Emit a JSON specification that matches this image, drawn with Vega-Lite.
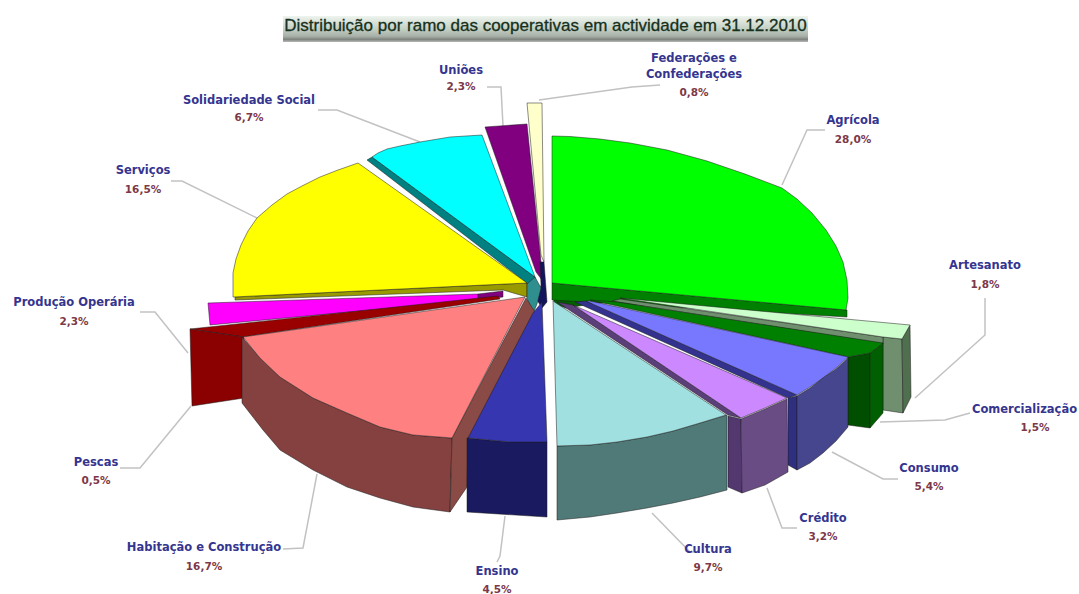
{
  "$schema": "https://vega.github.io/schema/vega-lite/v6.json",
  "width": 1079,
  "height": 594,
  "padding": 0,
  "autosize": "none",
  "background": "#ffffff",
  "view": {"stroke": null},
  "layer": [
    {
      "data": {"values": [{"x": 283, "x2": 808, "y": 16, "y2": 42}]},
      "mark": {"type": "rect", "fill": {"gradient": "linear", "x1": 0, "y1": 0, "x2": 0, "y2": 1, "stops": [{"offset": 0, "color": "#eef4ee"}, {"offset": 0.5, "color": "#c4d0c4"}, {"offset": 0.78, "color": "#a8b0a8"}, {"offset": 0.9, "color": "#7f847f"}, {"offset": 1, "color": "#b8bab8"}]}},
      "encoding": {
        "x": {"field": "x", "type": "quantitative", "scale": {"domain": [0, 1079]}, "axis": null},
        "x2": {"field": "x2"},
        "y": {"field": "y", "type": "quantitative", "scale": {"domain": [594, 0]}, "axis": null},
        "y2": {"field": "y2"}
      }
    },
    {
      "data": {"values": {"type": "FeatureCollection", "features": [
        {"type": "Feature", "properties": {"ramo": "Agrícola"}, "geometry": {"type": "LineString", "coordinates": [[782,185],[807,130],[825,130]]}},
        {"type": "Feature", "properties": {"ramo": "Artesanato"}, "geometry": {"type": "LineString", "coordinates": [[915,398],[985,335],[985,298]]}},
        {"type": "Feature", "properties": {"ramo": "Comercialização"}, "geometry": {"type": "LineString", "coordinates": [[880,422],[945,420],[970,413]]}},
        {"type": "Feature", "properties": {"ramo": "Consumo"}, "geometry": {"type": "LineString", "coordinates": [[832,452],[883,479],[898,479]]}},
        {"type": "Feature", "properties": {"ramo": "Crédito"}, "geometry": {"type": "LineString", "coordinates": [[767,488],[782,528],[797,528]]}},
        {"type": "Feature", "properties": {"ramo": "Cultura"}, "geometry": {"type": "LineString", "coordinates": [[652,513],[690,552],[700,552]]}},
        {"type": "Feature", "properties": {"ramo": "Ensino"}, "geometry": {"type": "LineString", "coordinates": [[505,516],[500,556],[497,562]]}},
        {"type": "Feature", "properties": {"ramo": "Habitação e Construção"}, "geometry": {"type": "LineString", "coordinates": [[317,474],[303,548],[283,549]]}},
        {"type": "Feature", "properties": {"ramo": "Pescas"}, "geometry": {"type": "LineString", "coordinates": [[191,406],[140,468],[120,468]]}},
        {"type": "Feature", "properties": {"ramo": "Produção Operária"}, "geometry": {"type": "LineString", "coordinates": [[188,353],[155,312],[140,312]]}},
        {"type": "Feature", "properties": {"ramo": "Serviços"}, "geometry": {"type": "LineString", "coordinates": [[257,218],[182,181],[171,181]]}},
        {"type": "Feature", "properties": {"ramo": "Solidariedade Social"}, "geometry": {"type": "LineString", "coordinates": [[420,142],[337,110],[318,110]]}},
        {"type": "Feature", "properties": {"ramo": "Uniões"}, "geometry": {"type": "LineString", "coordinates": [[503,126],[501,87],[487,87]]}},
        {"type": "Feature", "properties": {"ramo": "Federações e Confederações"}, "geometry": {"type": "LineString", "coordinates": [[539,100],[632,87],[660,85]]}}
      ]}, "format": {"type": "json", "property": "features"}},
      "projection": {"type": "identity", "scale": 1, "translate": [0, 0]},
      "mark": {"type": "geoshape", "filled": false, "stroke": "#c2c2c2", "strokeWidth": 1.5},
      "encoding": {}
    },
    {
      "data": {"values": {"type": "FeatureCollection", "features": [
        {"type": "Feature", "properties": {"part": "Federações topo", "ramo": "Federações e Confederações", "valor": 0.8}, "geometry": {"type": "Polygon", "coordinates": [[[527,103],[542,103],[544,262],[541,255],[527,103]]]}},
        {"type": "Feature", "properties": {"part": "Uniões topo", "ramo": "Uniões", "valor": 2.3}, "geometry": {"type": "Polygon", "coordinates": [[[485,127],[527,124],[541,262],[542,280],[536,272],[485,127]]]}},
        {"type": "Feature", "properties": {"part": "Solidariedade parede", "ramo": "Solidariedade Social", "valor": 6.7}, "geometry": {"type": "Polygon", "coordinates": [[[367,160],[372,157],[535,277],[537,290],[528,284],[367,160]]]}},
        {"type": "Feature", "properties": {"part": "Solidariedade topo", "ramo": "Solidariedade Social", "valor": 6.7}, "geometry": {"type": "Polygon", "coordinates": [[[482,135],[450,137],[420,142],[400,146],[387,149],[378,153],[372,157],[535,277],[482,135]]]}},
        {"type": "Feature", "properties": {"part": "Centro azul", "ramo": "Ensino", "valor": 4.5}, "geometry": {"type": "Polygon", "coordinates": [[[540,262],[544,262],[547,302],[542,308],[537,300],[541,285],[540,262]]]}},
        {"type": "Feature", "properties": {"part": "Serviços parede", "ramo": "Serviços", "valor": 16.5}, "geometry": {"type": "Polygon", "coordinates": [[[235,297],[527,283],[527,297],[503,290],[235,300],[235,297]]]}},
        {"type": "Feature", "properties": {"part": "Serviços topo", "ramo": "Serviços", "valor": 16.5}, "geometry": {"type": "Polygon", "coordinates": [[[358,163],[338,170],[320,177],[302,186],[287,194],[272,205],[257,218],[248,231],[241,245],[236,259],[233,273],[233,297],[527,283],[358,163]]]}},
        {"type": "Feature", "properties": {"part": "Centro teal", "ramo": "Solidariedade Social", "valor": 6.7}, "geometry": {"type": "Polygon", "coordinates": [[[527,284],[535,277],[541,288],[537,304],[533,314],[527,298],[527,284]]]}},
        {"type": "Feature", "properties": {"part": "Produção topo", "ramo": "Produção Operária", "valor": 2.3}, "geometry": {"type": "Polygon", "coordinates": [[[208,303],[478,294],[478,300],[210,325],[208,303]]]}},
        {"type": "Feature", "properties": {"part": "Produção parede", "ramo": "Produção Operária", "valor": 2.3}, "geometry": {"type": "Polygon", "coordinates": [[[478,294],[503,291],[503,297],[478,300],[478,294]]]}},
        {"type": "Feature", "properties": {"part": "Pescas topo", "ramo": "Pescas", "valor": 0.5}, "geometry": {"type": "Polygon", "coordinates": [[[190,329],[498,296],[500,299],[243,337],[190,329]]]}},
        {"type": "Feature", "properties": {"part": "Pescas lateral", "ramo": "Pescas", "valor": 0.5}, "geometry": {"type": "Polygon", "coordinates": [[[190,329],[244,337],[244,398],[192,406],[190,329]]]}},
        {"type": "Feature", "properties": {"part": "Centro verde", "ramo": "Agrícola", "valor": 28.0}, "geometry": {"type": "Polygon", "coordinates": [[[553,298],[625,300],[592,304],[566,308],[555,304],[553,298]]]}},
        {"type": "Feature", "properties": {"part": "Agrícola parede", "ramo": "Agrícola", "valor": 28.0}, "geometry": {"type": "Polygon", "coordinates": [[[552,283],[847,310],[847,317],[552,300],[552,283]]]}},
        {"type": "Feature", "properties": {"part": "Agrícola topo", "ramo": "Agrícola", "valor": 28.0}, "geometry": {"type": "Polygon", "coordinates": [[[552,136],[570,136.5],[600,139],[630,143],[667,150],[707,161],[745,174],[782,188],[797,199],[812,213],[826,230],[836,246],[843,262],[847,280],[848,298],[846,310],[552,283],[552,136]]]}},
        {"type": "Feature", "properties": {"part": "Artesanato frente", "ramo": "Artesanato", "valor": 1.8}, "geometry": {"type": "Polygon", "coordinates": [[[883,337],[902,339],[903,413],[883,410],[883,337]]]}},
        {"type": "Feature", "properties": {"part": "Artesanato lado", "ramo": "Artesanato", "valor": 1.8}, "geometry": {"type": "Polygon", "coordinates": [[[902,339],[910,325],[911,397],[903,413],[902,339]]]}},
        {"type": "Feature", "properties": {"part": "Artesanato parede", "ramo": "Artesanato", "valor": 1.8}, "geometry": {"type": "Polygon", "coordinates": [[[620,299],[883,337],[883,344],[612,301],[620,299]]]}},
        {"type": "Feature", "properties": {"part": "Artesanato topo", "ramo": "Artesanato", "valor": 1.8}, "geometry": {"type": "Polygon", "coordinates": [[[620,298],[910,325],[902,339],[883,337],[620,298]]]}},
        {"type": "Feature", "properties": {"part": "Comercialização frente", "ramo": "Comercialização", "valor": 1.5}, "geometry": {"type": "Polygon", "coordinates": [[[848,357],[870,353],[870,428],[848,425],[848,357]]]}},
        {"type": "Feature", "properties": {"part": "Comercialização lado", "ramo": "Comercialização", "valor": 1.5}, "geometry": {"type": "Polygon", "coordinates": [[[870,353],[883,343],[883,413],[870,428],[870,353]]]}},
        {"type": "Feature", "properties": {"part": "Comercialização topo", "ramo": "Comercialização", "valor": 1.5}, "geometry": {"type": "Polygon", "coordinates": [[[590,300],[617,302],[883,343],[870,353],[848,357],[590,300]]]}},
        {"type": "Feature", "properties": {"part": "Consumo parede", "ramo": "Consumo", "valor": 5.4}, "geometry": {"type": "Polygon", "coordinates": [[[575,302],[586,301],[797,395],[788,398],[575,302]]]}},
        {"type": "Feature", "properties": {"part": "Consumo topo", "ramo": "Consumo", "valor": 5.4}, "geometry": {"type": "Polygon", "coordinates": [[[590,301],[848,357],[836,368],[823,378],[810,387],[797,395],[586,301],[590,301]]]}},
        {"type": "Feature", "properties": {"part": "Consumo radial", "ramo": "Consumo", "valor": 5.4}, "geometry": {"type": "Polygon", "coordinates": [[[788,398],[797,396],[797,470],[788,465],[788,398]]]}},
        {"type": "Feature", "properties": {"part": "Consumo lateral", "ramo": "Consumo", "valor": 5.4}, "geometry": {"type": "Polygon", "coordinates": [[[797,396],[810,388],[823,378],[836,369],[848,358],[848,427],[836,441],[823,453],[810,463],[797,470],[797,396]]]}},
        {"type": "Feature", "properties": {"part": "Crédito parede", "ramo": "Crédito", "valor": 3.2}, "geometry": {"type": "Polygon", "coordinates": [[[557,302],[573,305],[741,418],[728,415],[557,302]]]}},
        {"type": "Feature", "properties": {"part": "Crédito topo", "ramo": "Crédito", "valor": 3.2}, "geometry": {"type": "Polygon", "coordinates": [[[573,305],[787,398],[765,408],[741,418],[573,305]]]}},
        {"type": "Feature", "properties": {"part": "Crédito radial", "ramo": "Crédito", "valor": 3.2}, "geometry": {"type": "Polygon", "coordinates": [[[728,416],[741,419],[742,493],[728,487],[728,416]]]}},
        {"type": "Feature", "properties": {"part": "Crédito lateral", "ramo": "Crédito", "valor": 3.2}, "geometry": {"type": "Polygon", "coordinates": [[[741,419],[765,409],[787,399],[788,472],[765,485],[742,493],[741,419]]]}},
        {"type": "Feature", "properties": {"part": "Cultura lateral", "ramo": "Cultura", "valor": 9.7}, "geometry": {"type": "Polygon", "coordinates": [[[557,446],[590,445],[617,442],[647,437],[673,431],[700,423],[727,415],[727,490],[700,497],[673,503],[647,508],[617,513],[590,517],[557,520],[557,446]]]}},
        {"type": "Feature", "properties": {"part": "Cultura topo", "ramo": "Cultura", "valor": 9.7}, "geometry": {"type": "Polygon", "coordinates": [[[553,301],[726,415],[700,423],[673,431],[647,437],[617,442],[590,445],[557,446],[553,301]]]}},
        {"type": "Feature", "properties": {"part": "Habitação lateral", "ramo": "Habitação e Construção", "valor": 16.7}, "geometry": {"type": "Polygon", "coordinates": [[[242,337],[260,358],[280,377],[313,398],[347,413],[380,427],[413,435],[452,438],[450,512],[413,507],[380,498],[347,487],[313,470],[280,450],[263,430],[242,403],[242,337]]]}},
        {"type": "Feature", "properties": {"part": "Habitação radial", "ramo": "Habitação e Construção", "valor": 16.7}, "geometry": {"type": "Polygon", "coordinates": [[[452,438],[526,298],[535,312],[468,440],[467,487],[450,512],[452,438]]]}},
        {"type": "Feature", "properties": {"part": "Habitação topo", "ramo": "Habitação e Construção", "valor": 16.7}, "geometry": {"type": "Polygon", "coordinates": [[[525,297],[243,337],[260,358],[280,377],[313,398],[347,413],[380,427],[413,435],[452,438],[525,297]]]}},
        {"type": "Feature", "properties": {"part": "Ensino lateral", "ramo": "Ensino", "valor": 4.5}, "geometry": {"type": "Polygon", "coordinates": [[[467,438],[510,442],[547,442],[547,517],[467,512],[467,438]]]}},
        {"type": "Feature", "properties": {"part": "Ensino topo", "ramo": "Ensino", "valor": 4.5}, "geometry": {"type": "Polygon", "coordinates": [[[542,302],[547,442],[510,442],[468,438],[533,313],[542,302]]]}}
      ]}, "format": {"type": "json", "property": "features"}},
      "projection": {"type": "identity", "scale": 1, "translate": [0, 0]},
      "mark": {"type": "geoshape", "stroke": "#1c1c1c", "strokeWidth": 1, "strokeOpacity": 0.5},
      "encoding": {
        "fill": {
          "field": "properties.part",
          "type": "nominal",
          "legend": null,
          "scale": {
            "domain": ["Federações topo","Uniões topo","Solidariedade parede","Solidariedade topo","Centro azul","Centro teal","Centro verde","Serviços parede","Serviços topo","Produção topo","Produção parede","Pescas topo","Pescas lateral","Agrícola parede","Agrícola topo","Artesanato frente","Artesanato lado","Artesanato parede","Artesanato topo","Comercialização frente","Comercialização lado","Comercialização topo","Consumo parede","Consumo topo","Consumo radial","Consumo lateral","Crédito parede","Crédito topo","Crédito radial","Crédito lateral","Cultura lateral","Cultura topo","Habitação lateral","Habitação radial","Habitação topo","Ensino lateral","Ensino topo"],
            "range": ["#ffffcc","#800080","#008080","#00ffff","#14145c","#2f8f8f","#006000","#999900","#ffff00","#ff00ff","#800080","#990000","#8b0000","#008000","#00ff00","#6f8f6f","#4f6f4f","#6f8f6f","#ccffcc","#004f00","#005f00","#008000","#33338f","#7878ff","#2f2f80","#46468f","#5a3f78","#cc88ff","#52386e","#6a4c85","#4f7a78","#a0e0e0","#854040","#8a4a45","#ff8080","#1a1a60","#3636b0"]
          }
        }
      }
    },
    {
      "data": {"values": [
        {"t": "Distribuição por ramo das cooperativas em actividade em 31.12.2010", "x": 545.5, "y": 26}
      ]},
      "mark": {"type": "text", "font": "Liberation Sans", "fontSize": 17, "fontWeight": "normal", "align": "center", "baseline": "middle", "fill": "#16301c", "stroke": "#16301c", "strokeWidth": 0.3},
      "encoding": {
        "text": {"field": "t"},
        "x": {"field": "x", "type": "quantitative", "scale": {"domain": [0, 1079]}, "axis": null},
        "y": {"field": "y", "type": "quantitative", "scale": {"domain": [594, 0]}, "axis": null}
      }
    },
    {
      "data": {"values": [
        {"t": "Uniões", "k": "ramo", "x": 461, "y": 71},
        {"t": "2,3%", "k": "valor", "x": 461, "y": 87},
        {"t": "Federações e", "k": "ramo", "x": 694, "y": 59},
        {"t": "Confederações", "k": "ramo", "x": 694, "y": 75},
        {"t": "0,8%", "k": "valor", "x": 694, "y": 93},
        {"t": "Solidariedade Social", "k": "ramo", "x": 249, "y": 101},
        {"t": "6,7%", "k": "valor", "x": 249, "y": 118},
        {"t": "Agrícola", "k": "ramo", "x": 853, "y": 121},
        {"t": "28,0%", "k": "valor", "x": 853, "y": 140},
        {"t": "Serviços", "k": "ramo", "x": 143, "y": 171},
        {"t": "16,5%", "k": "valor", "x": 143, "y": 190},
        {"t": "Artesanato", "k": "ramo", "x": 985, "y": 266},
        {"t": "1,8%", "k": "valor", "x": 985, "y": 285},
        {"t": "Produção Operária", "k": "ramo", "x": 74, "y": 303},
        {"t": "2,3%", "k": "valor", "x": 74, "y": 322},
        {"t": "Comercialização", "k": "ramo", "x": 1024.5, "y": 410},
        {"t": "1,5%", "k": "valor", "x": 1035, "y": 428},
        {"t": "Consumo", "k": "ramo", "x": 929, "y": 469},
        {"t": "5,4%", "k": "valor", "x": 929, "y": 487},
        {"t": "Crédito", "k": "ramo", "x": 823, "y": 519},
        {"t": "3,2%", "k": "valor", "x": 823, "y": 537},
        {"t": "Cultura", "k": "ramo", "x": 708, "y": 550},
        {"t": "9,7%", "k": "valor", "x": 708, "y": 568},
        {"t": "Ensino", "k": "ramo", "x": 497, "y": 572},
        {"t": "4,5%", "k": "valor", "x": 497, "y": 590},
        {"t": "Habitação e Construção", "k": "ramo", "x": 204, "y": 548},
        {"t": "16,7%", "k": "valor", "x": 204, "y": 567},
        {"t": "Pescas", "k": "ramo", "x": 96, "y": 463},
        {"t": "0,5%", "k": "valor", "x": 96, "y": 481}
      ]},
      "mark": {"type": "text", "font": "DejaVu Sans", "fontWeight": "bold", "align": "center", "baseline": "middle"},
      "encoding": {
        "text": {"field": "t"},
        "x": {"field": "x", "type": "quantitative", "scale": {"domain": [0, 1079]}, "axis": null},
        "y": {"field": "y", "type": "quantitative", "scale": {"domain": [594, 0]}, "axis": null},
        "size": {"field": "k", "type": "ordinal", "legend": null, "scale": {"domain": ["ramo", "valor"], "range": [11.5, 10.5]}},
        "fill": {"field": "k", "type": "nominal", "legend": null, "scale": {"domain": ["ramo", "valor"], "range": ["#35358f", "#7d3848"]}}
      }
    }
  ],
  "resolve": {"scale": {"fill": "independent"}},
  "config": {"style": {"cell": {"stroke": null}}}
}
